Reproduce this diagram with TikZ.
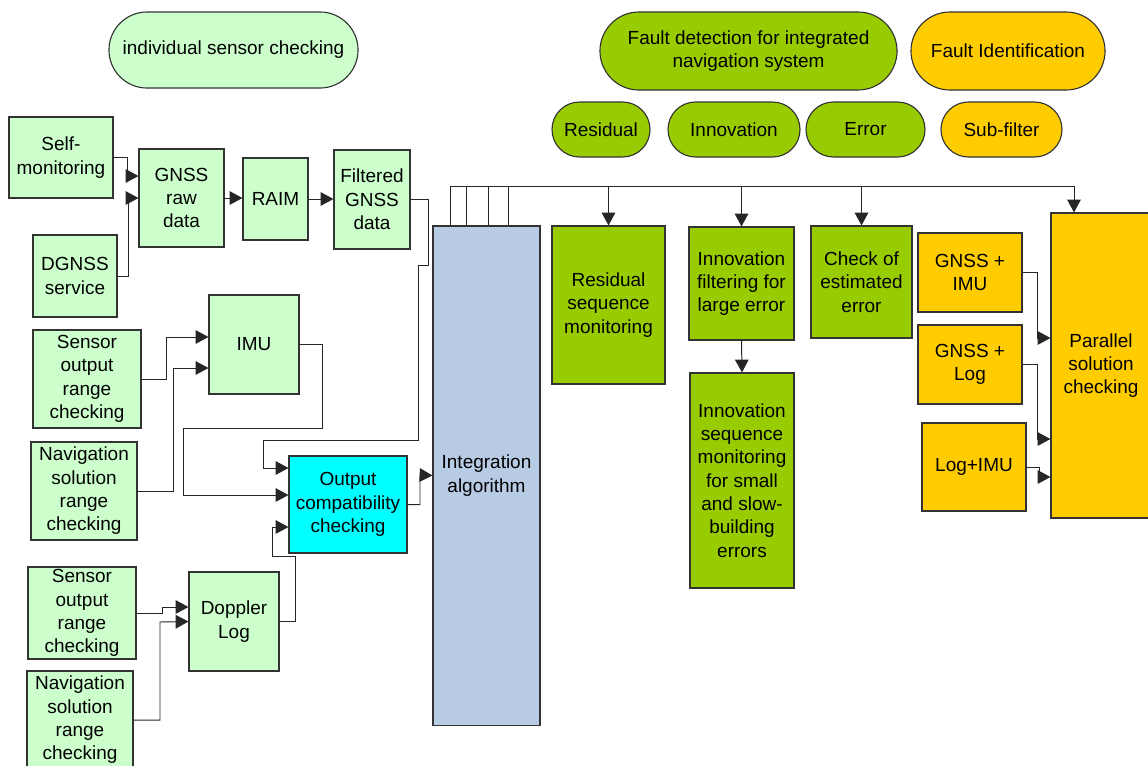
\documentclass[tikz,border=0pt]{standalone}
\usepackage{fontspec}
\setmainfont{Liberation Sans}
\usepackage{tikz}
\usetikzlibrary{arrows.meta, shapes.misc}
\definecolor{paleGreen}{HTML}{CCFFCC}
\definecolor{leafGreen}{HTML}{99CC00}
\definecolor{gold}{HTML}{FFCC00}
\definecolor{aqua}{HTML}{00FFFF}
\definecolor{steel}{HTML}{B8CBE4}

\begin{document}
\begin{tikzpicture}[
    x=0.025cm, y=-0.025cm,
    font=\fontsize{13.5}{16.6}\selectfont,
    box/.style={draw=black!80, line width=0.8pt, inner sep=0pt, align=center},
    pill/.style={box, rounded rectangle},
    sensor/.style={box, fill=paleGreen},
    detect/.style={box, fill=leafGreen},
    ident/.style={box, fill=gold},
    link/.style={draw=black!85, line width=0.7pt},
    arr/.style={link, -{Triangle[length=0.32cm, width=0.34cm]}},
]
\useasboundingbox[fill=white] (0,0) rectangle (1148,765);

% Headings
\node[pill, fill=paleGreen, minimum width=6.225cm, minimum height=1.9cm] (indiv) at (233.5,50) {individual sensor checking};
\node[pill, fill=leafGreen, minimum width=7.425cm, minimum height=1.95cm] (faultdet) at (748.5,51) {Fault detection for integrated\\navigation system};
\node[pill, fill=gold, minimum width=4.85cm, minimum height=1.95cm] (faultid) at (1008,51) {Fault Identification};
\node[pill, fill=leafGreen, minimum width=2.45cm, minimum height=1.375cm] (residual) at (601,129.5) {Residual};
\node[pill, fill=leafGreen, minimum width=3.3cm, minimum height=1.375cm] (innov) at (734,129.5) {Innovation};
\node[pill, fill=leafGreen, minimum width=2.975cm, minimum height=1.375cm] (error) at (865.5,129.5) {Error};
\node[pill, fill=gold, minimum width=3.025cm, minimum height=1.375cm] (subfilter) at (1001.5,129.5) {Sub-filter};

% Individual sensors
\node[sensor, minimum width=2.6cm, minimum height=2.025cm] (selfmon) at (61,157.5) {Self-\\monitoring};
\node[sensor, minimum width=2.125cm, minimum height=2.45cm] (gnssraw) at (181.5,198) {GNSS\\raw\\data};
\node[sensor, minimum width=1.625cm, minimum height=2.05cm] (raim) at (275.5,199) {RAIM};
\node[sensor, minimum width=1.9cm, minimum height=2.475cm] (filtered) at (372,199.5) {Filtered\\GNSS\\data};
\node[sensor, minimum width=2.1cm, minimum height=2.05cm] (dgnss) at (75,276) {DGNSS\\service};
\node[sensor, minimum width=2.7cm, minimum height=2.45cm] (sensorA) at (87,379) {Sensor\\output\\range\\checking};
\node[sensor, minimum width=2.25cm, minimum height=2.475cm] (imu) at (254,344.5) {IMU};
\node[sensor, minimum width=2.65cm, minimum height=2.45cm] (navA) at (84,491) {Navigation\\solution\\range\\checking};
\node[box, fill=aqua, minimum width=2.95cm, minimum height=2.425cm] (outcheck) at (348,504.5) {Output\\compatibility\\checking};
\node[sensor, minimum width=2.7cm, minimum height=2.3cm] (sensorB) at (82,613) {Sensor\\output\\range\\checking};
\node[sensor, minimum width=2.65cm, minimum height=2.45cm] (navB) at (80,720) {Navigation\\solution\\range\\checking};
\node[sensor, minimum width=2.25cm, minimum height=2.475cm] (doppler) at (234,621.5) {Doppler\\Log};

% Integration and fault detection
\node[box, fill=steel, minimum width=2.675cm, minimum height=12.475cm] (integ) at (486.5,475.5) {Integration\\algorithm};
\node[detect, minimum width=2.825cm, minimum height=3.95cm] (resseq) at (608.5,305) {Residual\\sequence\\monitoring};
\node[detect, minimum width=2.625cm, minimum height=2.825cm] (innfilt) at (741.5,283.5) {Innovation\\filtering for\\large error};
\node[detect, minimum width=2.6cm, minimum height=5.375cm] (innseq) at (742,480.5) {Innovation\\sequence\\monitoring\\for small\\and slow-\\building\\errors};
\node[detect, minimum width=2.525cm, minimum height=2.8cm] (checkerr) at (861.5,282) {Check of\\estimated\\error};
\node[ident, minimum width=2.6cm, minimum height=1.975cm] (gnssimu) at (970,272.5) {GNSS +\\IMU};
\node[ident, minimum width=2.6cm, minimum height=1.975cm] (gnsslog) at (970,364.5) {GNSS +\\Log};
\node[ident, minimum width=2.6cm, minimum height=2.2cm] (logimu) at (974,467) {Log+IMU};
\node[ident, minimum width=2.5cm, minimum height=7.625cm] (parallel) at (1101,365.5) {Parallel\\solution\\checking};

% GNSS chain
\draw[arr] (selfmon.east) -| (127,176) -- (gnssraw.west |- 0,176);
\draw[arr] (dgnss.east) -| (128,198) -- (gnssraw.west);
\draw[arr] (gnssraw.east) -- (raim.west |- gnssraw.east);
\draw[arr] (raim.east) -- (filtered.west |- raim.east);
\draw[arr] (filtered.east) -| (428,265) -| (418,440) -| (263,468) -- (outcheck.west |- 0,468);

% IMU and Doppler log
\draw[arr] (sensorA.east) -| (166,337) -- (imu.west |- 0,337);
\draw[arr] (navA.east) -| (173,368) -- (imu.west |- 0,368);
\draw[arr] (imu.east) -| (322,428) -| (183,495) -- (outcheck.west |- 0,495);
\draw[arr] (sensorB.east) -| (162,607) -- (doppler.west |- 0,607);
\draw[arr] (navB.east) -| (160,622) -- (doppler.west);
\draw[arr] (doppler.east) -| (295,556) -| (272,527) -- (outcheck.west |- 0,527);
\draw[arr] (outcheck.east) -| (420,475) -- (integ.west);

% Output bus
\coordinate (busL) at (450,186);
\coordinate (busR) at (1074,186);
\foreach \x in {450,466,488,508}
    \draw[link] (integ.north -| \x,0) -- (\x,186);
\draw[link] (busL) -- (busR);
\draw[arr] (resseq.north |- busL) -- (resseq.north);
\draw[arr] (innfilt.north |- busL) -- (innfilt.north);
\draw[arr] (checkerr.north |- busL) -- (checkerr.north);
\draw[arr] (busR) -- (busR |- parallel.north);
\draw[arr] (innfilt.south) -- (innseq.north);

% Sub-filters
\draw[arr] (gnssimu.east) -| (1037,338) -- (parallel.west |- 0,338);
\draw[arr] (gnsslog.east) -| (1037,439) -- (parallel.west |- 0,439);
\draw[arr] (logimu.east) -| (1039,477) -- (parallel.west |- 0,477);
\end{tikzpicture}
\end{document}
